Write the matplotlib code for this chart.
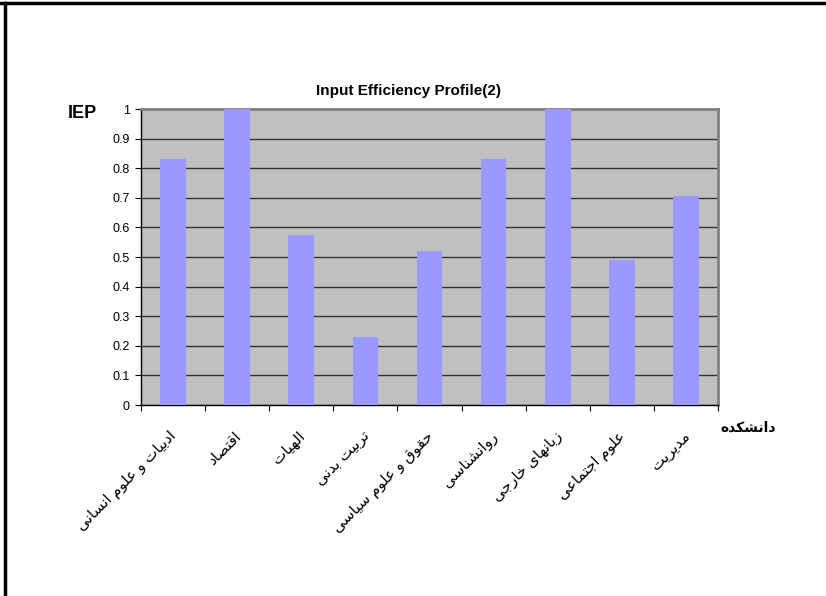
import numpy as np
import matplotlib
matplotlib.use("Agg")
import matplotlib.pyplot as plt
import matplotlib.transforms as mtransforms
from matplotlib.lines import Line2D

plt.rcParams["font.family"] = ["Liberation Sans", "DejaVu Sans"]

# data
faculties = [
    "ادبیات و علوم انسانی",
    "اقتصاد",
    "الهیات",
    "تربیت بدنی",
    "حقوق و علوم سیاسی",
    "روانشناسی",
    "زبانهای خارجی",
    "علوم اجتماعی",
    "مدیریت",
]
iep = [0.83, 1.0, 0.575, 0.23, 0.52, 0.83, 1.0, 0.49, 0.705]
y_ticks = [0, 0.1, 0.2, 0.3, 0.4, 0.5, 0.6, 0.7, 0.8, 0.9, 1]
y_tick_labels = ["0", "0.1", "0.2", "0.3", "0.4", "0.5", "0.6", "0.7", "0.8", "0.9", "1"]
title = "Input Efficiency Profile(2)"
y_label = "IEP"
x_label = "دانشکده"

# minimal Arabic/Persian shaping (matplotlib has no complex text layout)
# letter: (isolated, final, initial, medial); None for right-joining only
FORMS = {
    "ا": (0xFE8D, 0xFE8E, None, None),
    "ب": (0xFE8F, 0xFE90, 0xFE91, 0xFE92),
    "ت": (0xFE95, 0xFE96, 0xFE97, 0xFE98),
    "ج": (0xFE9D, 0xFE9E, 0xFE9F, 0xFEA0),
    "ح": (0xFEA1, 0xFEA2, 0xFEA3, 0xFEA4),
    "خ": (0xFEA5, 0xFEA6, 0xFEA7, 0xFEA8),
    "د": (0xFEA9, 0xFEAA, None, None),
    "ر": (0xFEAD, 0xFEAE, None, None),
    "ز": (0xFEAF, 0xFEB0, None, None),
    "س": (0xFEB1, 0xFEB2, 0xFEB3, 0xFEB4),
    "ش": (0xFEB5, 0xFEB6, 0xFEB7, 0xFEB8),
    "ص": (0xFEB9, 0xFEBA, 0xFEBB, 0xFEBC),
    "ع": (0xFEC9, 0xFECA, 0xFECB, 0xFECC),
    "ق": (0xFED5, 0xFED6, 0xFED7, 0xFED8),
    "ل": (0xFEDD, 0xFEDE, 0xFEDF, 0xFEE0),
    "م": (0xFEE1, 0xFEE2, 0xFEE3, 0xFEE4),
    "ن": (0xFEE5, 0xFEE6, 0xFEE7, 0xFEE8),
    "ه": (0xFEE9, 0xFEEA, 0xFEEB, 0xFEEC),
    "و": (0xFEED, 0xFEEE, None, None),
    "ی": (0xFBFC, 0xFBFD, 0xFBFE, 0xFBFF),
    "ک": (0xFB8E, 0xFB8F, 0xFB90, 0xFB91),
}


def shape(text: str) -> str:
    out = []
    for i, ch in enumerate(text):
        if ch not in FORMS:
            out.append(ch)
            continue
        prev = text[i - 1] if i > 0 else ""
        nxt = text[i + 1] if i + 1 < len(text) else ""
        join_prev = prev in FORMS and FORMS[prev][2] is not None
        join_next = FORMS[ch][2] is not None and nxt in FORMS
        iso, fin, ini, med = FORMS[ch]
        if join_prev and join_next:
            code = med
        elif join_prev:
            code = fin
        elif join_next:
            code = ini
        else:
            code = iso
        out.append(chr(code))
    return "".join(out)[::-1]


W, H = 826, 596
fig = plt.figure(figsize=(W / 100, H / 100), dpi=100)
ax = fig.add_axes([141 / W, 1 - 405 / H, (718 - 141) / W, (405 - 109) / H])

x = np.arange(len(faculties))
ax.bar(x, iep, width=0.4, color="#9999FF", zorder=3)

ax.set_facecolor("#C0C0C0")
ax.set_xlim(-0.5, len(faculties) - 0.5)
ax.set_ylim(0, 1)
ax.set_yticks(y_ticks)
ax.set_yticklabels(y_tick_labels, fontsize=9)
ax.yaxis.grid(True, color="#333333", linewidth=1.0, zorder=1)
ax.set_axisbelow(True)

# category boundary ticks, labels at centres
ax.set_xticks(np.arange(-0.5, len(faculties)))
ax.set_xticklabels([])
ax.set_xticks(x, minor=True)
ax.set_xticklabels([shape(f) for f in faculties], minor=True, rotation=45,
                   ha="right", va="top", fontsize=11)
ax.tick_params(axis="x", which="minor", length=0, pad=13)
ax.tick_params(axis="x", which="major", length=4, direction="out")
ax.tick_params(axis="y", length=4, direction="out", pad=4)
shift = mtransforms.ScaledTranslation(7 / 100, -6 / 100, fig.dpi_scale_trans)
for lbl in ax.get_xticklabels(minor=True):
    lbl.set_transform(lbl.get_transform() + shift)

for side in ("top", "right"):
    ax.spines[side].set_color("#808080")
    ax.spines[side].set_linewidth(2)
for side in ("left", "bottom"):
    ax.spines[side].set_color("black")
    ax.spines[side].set_linewidth(1)

fig.text(409 / W, 1 - 91 / H, title, ha="center", va="center", fontsize=11, fontweight="bold")
fig.text(82 / W, 1 - 113 / H, y_label, ha="center", va="center", fontsize=13, fontweight="bold")
fig.text(748 / W, 1 - 428 / H, shape(x_label), ha="center", va="center", fontsize=10, fontweight="bold")

# outer frame (top and left edges visible in the reference)
fig.add_artist(Line2D([0, 1], [1 - 3 / H, 1 - 3 / H], transform=fig.transFigure, color="black", linewidth=2.5))
fig.add_artist(Line2D([5 / W, 5 / W], [0, 1 - 3 / H], transform=fig.transFigure, color="black", linewidth=2.5))

fig.savefig("out.png", dpi=100)
